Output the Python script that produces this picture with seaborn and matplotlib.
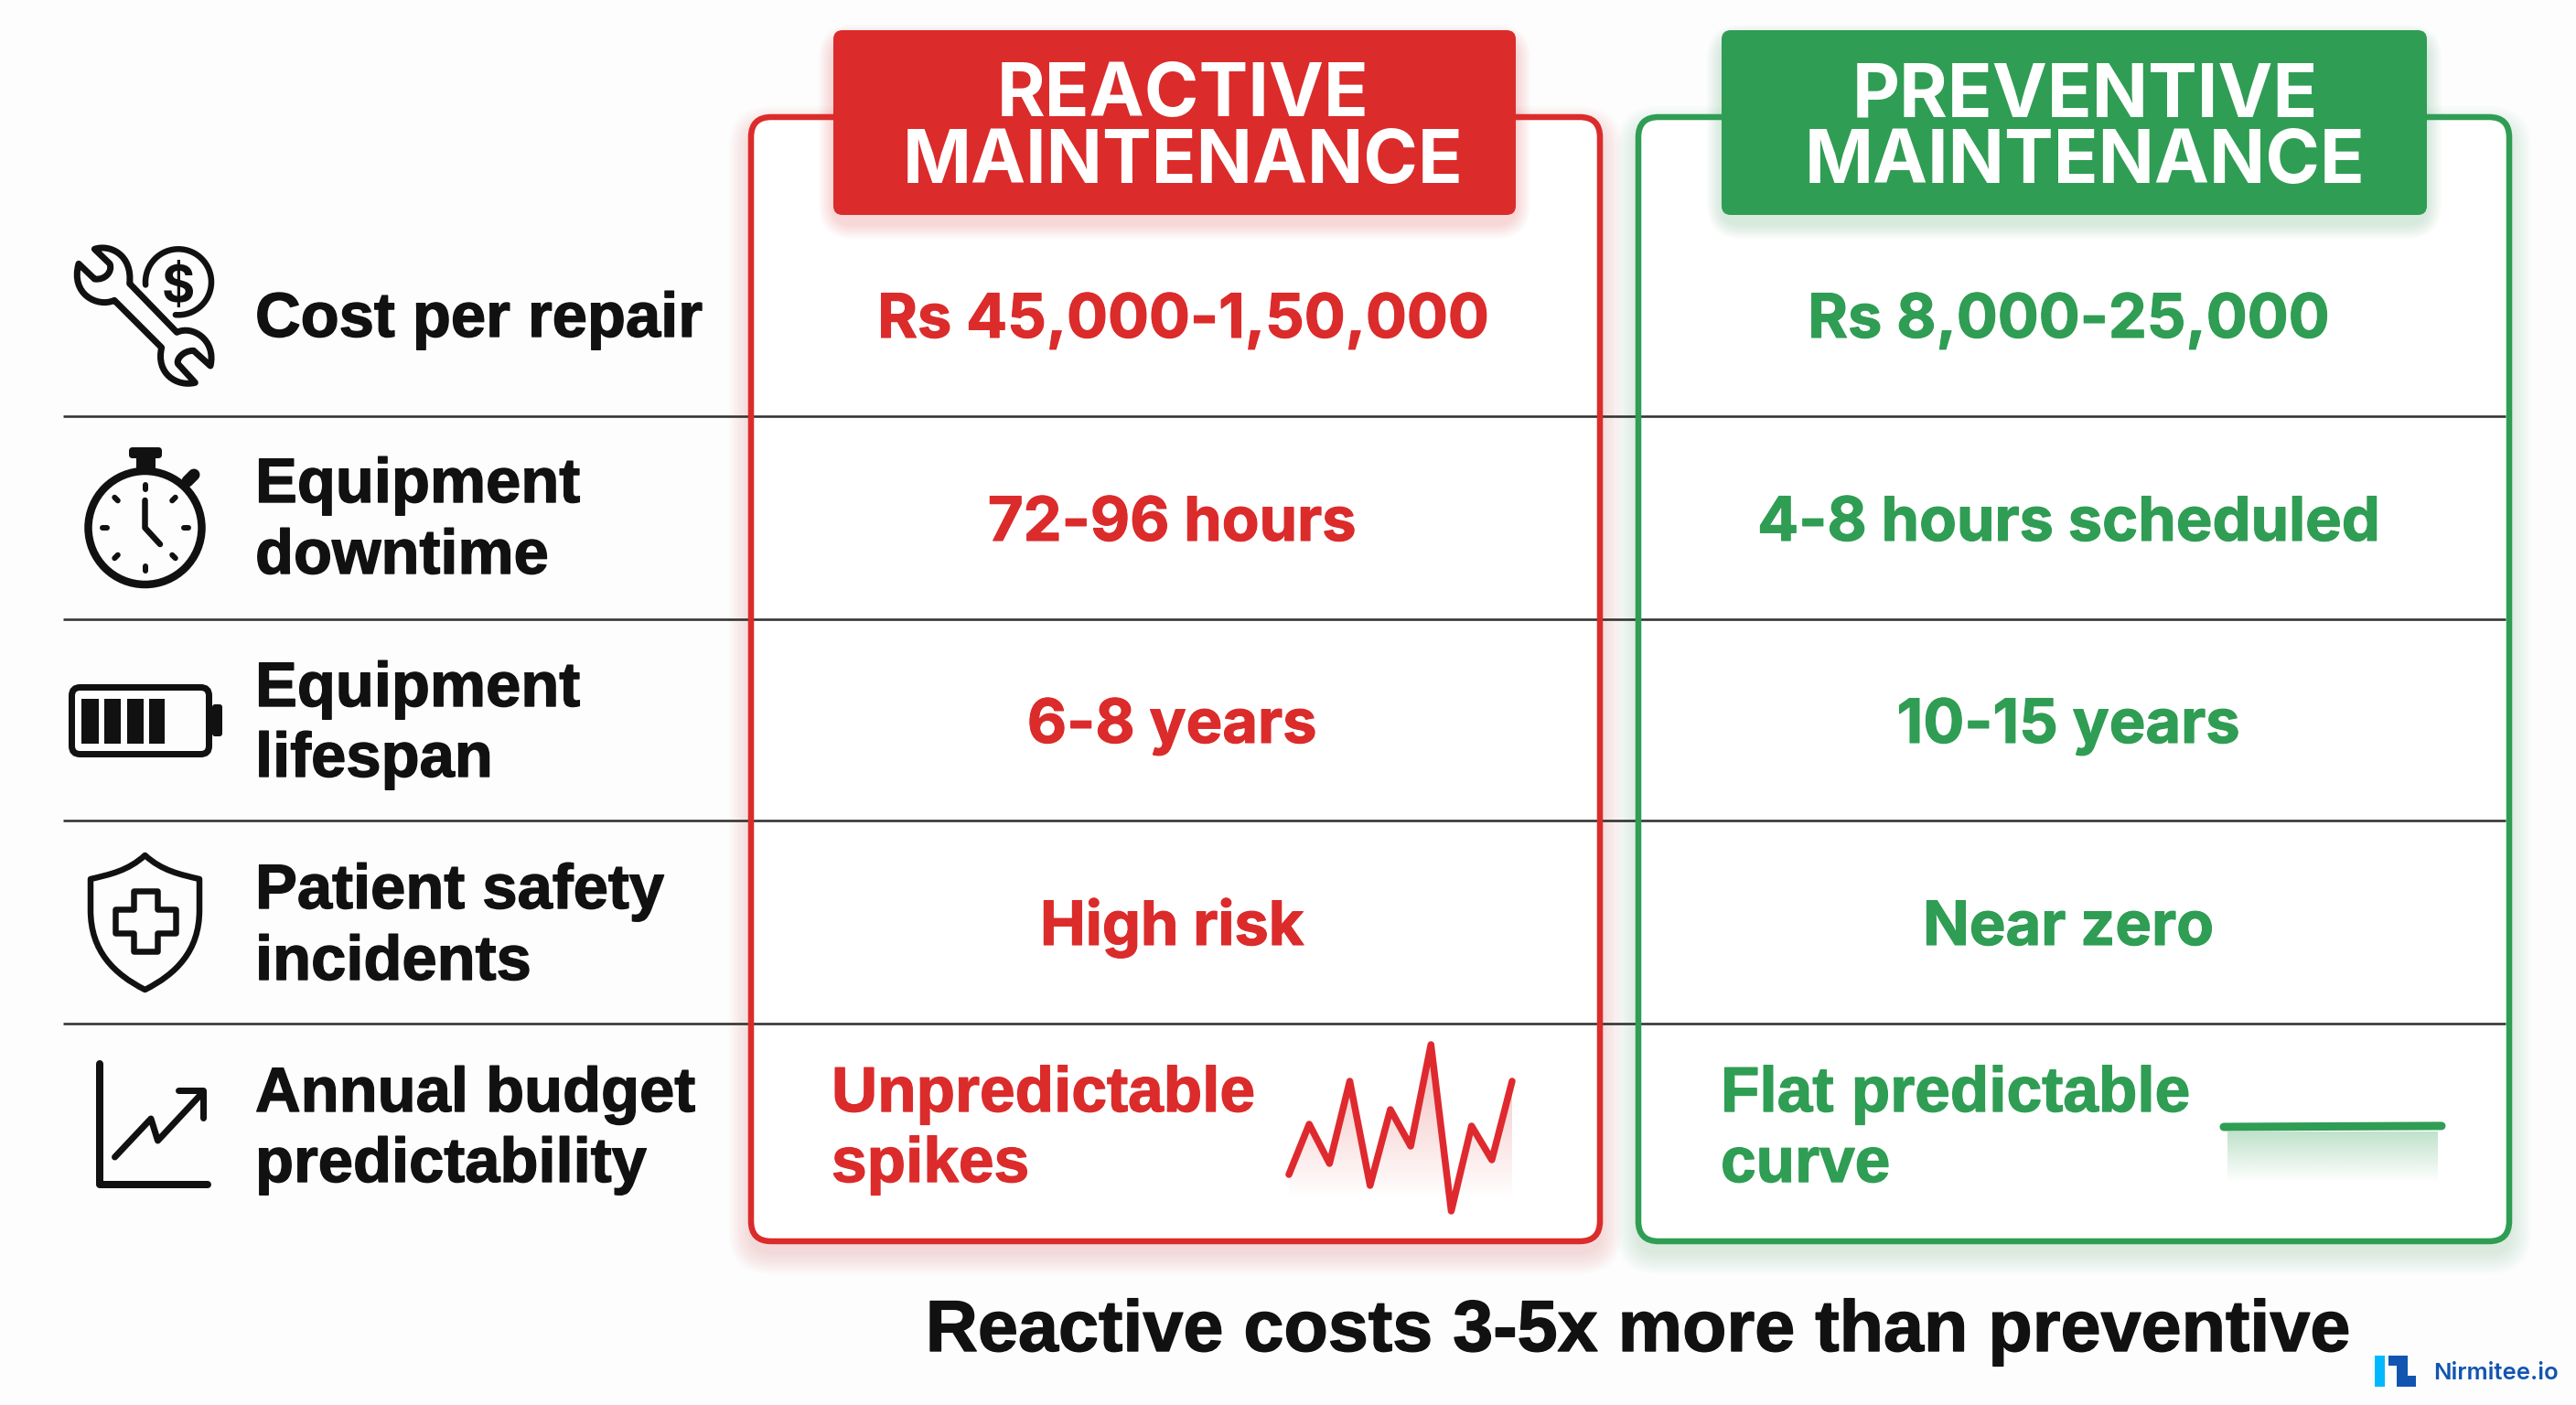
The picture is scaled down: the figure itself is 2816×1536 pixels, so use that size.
"""Reactive vs preventive maintenance comparison table."""

import numpy as np
import matplotlib
matplotlib.use('Agg')
import matplotlib.pyplot as plt
import matplotlib.patheffects as pe
import seaborn as sns
from matplotlib.patches import Circle, FancyBboxPatch, PathPatch, Polygon, Rectangle
from matplotlib.path import Path
from matplotlib.colors import to_rgb

# Table content
metric_labels = ['Cost per repair', 'Equipment\ndowntime', 'Equipment\nlifespan',
                 'Patient safety\nincidents', 'Annual budget\npredictability']
reactive_values = ['Rs 45,000-1,50,000', '72-96 hours', '6-8 years', 'High risk']
preventive_values = ['Rs 8,000-25,000', '4-8 hours scheduled', '10-15 years', 'Near zero']
reactive_budget = ['Unpredictable', 'spikes']
preventive_budget = ['Flat predictable', 'curve']
headers = ['REACTIVE\nMAINTENANCE', 'PREVENTIVE\nMAINTENANCE']
footer = 'Reactive costs 3-5x more than preventive'
brand = 'Nirmitee.io'

# Sparklines (arbitrary budget units)
period = list(range(12))
reactive_spend = [40, 95, 52, 142, 28, 111, 71, 182, 0, 93, 56, 142]
preventive_spend = [92, 92.1, 92.2, 92.3, 92.4, 92.5, 92.6, 92.7, 92.8, 92.9, 93, 93.1]

RED = '#DB2B2B'
GREEN = '#2F9D53'
INK = '#111111'
BG = '#FDFDFD'
BODY_FONT = 'Liberation Sans'
HEAD_FONT = 'Inter'
PX = 0.72  # one pixel in points at dpi 100

sns.set_theme(style='white')
plt.rcParams['font.family'] = [BODY_FONT, 'DejaVu Sans']

fig = plt.figure(figsize=(28.16, 15.36), dpi=100, facecolor=BG)
ax = fig.add_axes([0, 0, 1, 1])
ax.set_xlim(0, 2816)
ax.set_ylim(1536, 0)
ax.axis('off')


def put(text, x, y, size, color=INK, ha='left', weight='bold', family=BODY_FONT, thicken=0, z=10):
    txt = ax.text(x, y, text, fontsize=size, color=color, ha=ha, va='baseline',
                  fontweight=weight, family=family, zorder=z)
    if thicken:
        txt.set_path_effects([pe.withStroke(linewidth=thicken, foreground=color)])


def rounded(x0, y0, x1, y1, radius, **kw):
    patch = FancyBboxPatch((x0, y0), x1 - x0, y1 - y0,
                           boxstyle=f'round,pad=0,rounding_size={radius}', **kw)
    ax.add_patch(patch)
    return patch


def glow(x0, y0, x1, y1, color, steps, spread, drop, alpha, z):
    for i in range(steps, 0, -1):
        grow = spread * i / steps
        rounded(x0 - grow, y0 - grow + drop, x1 + grow, y1 + grow + drop, 22 + grow,
                facecolor=color, edgecolor='none', alpha=alpha, zorder=z)


# Column frames
frames = [(821, 128, 1749, 1357, RED), (1791, 128, 2743, 1357, GREEN)]
for x0, y0, x1, y1, col in frames:
    glow(x0, y0, x1, y1, col, 10, 24, 12, 0.015, 1)
    rounded(x0, y0, x1, y1, 22, facecolor='white', edgecolor='none', zorder=2)
    rounded(x0, y0, x1, y1, 22, facecolor='none', edgecolor=col, linewidth=6.5 * PX, zorder=4)

# Row separators
for y in [455, 677, 897, 1119]:
    ax.plot([69, 2739], [y, y], color='#333333', lw=2.6 * PX, zorder=3, solid_capstyle='butt')

# Header tabs
tabs = [(911, 33, 1657, 235, RED, 1293), (1882, 33, 2653, 235, GREEN, 2279)]
for (x0, y0, x1, y1, col, cx), head in zip(tabs, headers):
    glow(x0, y0, x1, y1, col, 8, 16, 10, 0.025, 5)
    rounded(x0, y0, x1, y1, 10, facecolor=col, edgecolor='none', zorder=6)
    first, second = head.split('\n')
    put(first, cx, 127, 58, 'white', ha='center', family=HEAD_FONT)
    put(second, cx, 200, 58, 'white', ha='center', family=HEAD_FONT)

# Row labels
label_baselines = [(368,), (549, 627), (772, 849), (993, 1071), (1215, 1292)]
for label, ys in zip(metric_labels, label_baselines):
    for part, y in zip(label.split('\n'), ys):
        put(part, 279, y, 49.5, thicken=1.0)

# Value cells
value_baselines = [369, 591, 812, 1033]
for val, y in zip(reactive_values, value_baselines):
    put(val, 1281 if y != 369 else 1293, y, 48, RED, ha='center', family=HEAD_FONT, thicken=0.8)
for val, y in zip(preventive_values, value_baselines):
    put(val, 2261, y, 48, GREEN, ha='center', family=HEAD_FONT, thicken=0.8)
for part, y in zip(reactive_budget, (1215, 1292)):
    put(part, 909, y, 50, RED, thicken=1.0)
for part, y in zip(preventive_budget, (1215, 1292)):
    put(part, 1881, y, 50, GREEN, thicken=1.0)

put(footer, 1791, 1477, 57, INK, ha='center', thicken=1.0)


def spark_axes(x0, x1):
    # y range shared by both sparklines, same pixel rect height
    sub = fig.add_axes([x0 / 2816, 1 - 1324 / 1536, (x1 - x0) / 2816, 182 / 1536])
    sub.patch.set_alpha(0)
    sub.axis('off')
    return sub


def fade(sub, color, extent, top_alpha):
    rgb = to_rgb(color)
    grad = np.zeros((64, 2, 4))
    grad[..., :3] = rgb
    grad[..., 3] = np.linspace(top_alpha, 0, 64)[:, None]
    return sub.imshow(grad, extent=extent, origin='upper', aspect='auto', interpolation='bilinear')


# Reactive sparkline
ax_r = spark_axes(1409, 1653)
img = fade(ax_r, RED, (0, 11, 11, 182), 0.32)
verts = list(zip(period, reactive_spend)) + [(11, 0), (0, 0)]
img.set_clip_path(Polygon(verts, closed=True, transform=ax_r.transData))
sns.lineplot(x=period, y=reactive_spend, ax=ax_r, color='#DE2A2E', linewidth=7.5 * PX, errorbar=None)
ax_r.lines[0].set_solid_joinstyle('round')
ax_r.lines[0].set_clip_on(False)
ax_r.set_xlim(0, 11)
ax_r.set_ylim(0, 182)
ax_r.axis('off')

# Preventive sparkline
ax_p = spark_axes(2431, 2669)
fade(ax_p, GREEN, (0.2, 10.8, 31, 87), 0.3)
sns.lineplot(x=period, y=preventive_spend, ax=ax_p, color=GREEN, linewidth=9 * PX, errorbar=None)
ax_p.lines[0].set_solid_capstyle('round')
ax_p.lines[0].set_clip_on(False)
ax_p.set_xlim(0, 11)
ax_p.set_ylim(0, 182)
ax_p.axis('off')


# Icons, all in figure pixels
def stroke(points, width, color=INK, z=10):
    xs, ys = zip(*points)
    ax.plot(xs, ys, color=color, lw=width * PX, solid_capstyle='round',
            solid_joinstyle='round', zorder=z)


def draw_wrench():
    M, L, C, Z = Path.MOVETO, Path.LINETO, Path.CURVE4, Path.CLOSEPOLY
    pts = [(100, 52), (150, 35), (225, 70), (215, 165), (370, 325),
           (420, 300), (500, 350), (480, 435), (425, 385),
           (385, 385), (365, 420), (375, 430), (430, 490),
           (370, 505), (300, 460), (320, 375), (165, 220),
           (110, 245), (20, 200), (48, 100), (100, 150),
           (135, 155), (160, 125), (150, 100), (100, 52), (100, 52)]
    codes = [M, C, C, C, L, C, C, C, L, C, C, C, L, C, C, C, L, C, C, C, L, C, C, C, L, Z]
    xy = np.array(pts, dtype=float) / 3 + [70, 255]
    ax.add_patch(PathPatch(Path(xy, codes), facecolor='none', edgecolor=INK,
                           lw=7 * PX, joinstyle='round', zorder=10))
    theta = np.radians(np.linspace(175, 455, 80))
    stroke(list(zip(195 + 36 * np.cos(theta), 308.3 + 36 * np.sin(theta))), 6.5)
    ax.text(195, 310, '$', fontsize=40, fontweight='bold', color=INK, ha='center',
            va='center_baseline', zorder=10, family=HEAD_FONT)


def draw_stopwatch():
    cx, cy = 158.5, 577
    ax.add_patch(Circle((cx, cy), 62, facecolor='none', edgecolor=INK, lw=8.5 * PX, zorder=10))
    ax.add_patch(Rectangle((149, 500), 21, 16, facecolor=INK, edgecolor='none', zorder=10))
    rounded(141, 489, 177, 501, 4, facecolor=INK, edgecolor='none', zorder=10)
    stroke([(205, 526), (212, 519)], 13)
    for a in np.radians(np.arange(0, 360, 45)):
        stroke([(cx + 42 * np.cos(a), cy + 42 * np.sin(a)), (cx + 47 * np.cos(a), cy + 47 * np.sin(a))], 6)
    stroke([(158.5, 547), (158.5, 577), (175, 595)], 6.5)


def draw_battery():
    rounded(78.5, 751.5, 228.5, 824.5, 9, facecolor='none', edgecolor=INK, lw=7 * PX, zorder=10)
    rounded(232, 770, 243, 805, 3, facecolor=INK, edgecolor='none', zorder=10)
    for x0, x1 in [(89, 108), (113.5, 132), (138.5, 157), (163, 180)]:
        ax.add_patch(Rectangle((x0, 764), x1 - x0, 49, facecolor=INK, edgecolor='none', zorder=10))


def draw_shield():
    M, L, C, Z = Path.MOVETO, Path.LINETO, Path.CURVE4, Path.CLOSEPOLY
    pts = [(158.5, 935), (140, 952), (120, 956), (99, 961), (99, 995), (99, 1040), (125, 1065),
           (158.5, 1082), (192, 1065), (218, 1040), (218, 995), (218, 961), (197, 956), (177, 952),
           (158.5, 935), (158.5, 935)]
    codes = [M, C, C, C, L, C, C, C, C, C, C, L, C, C, C, Z]
    ax.add_patch(PathPatch(Path(pts, codes), facecolor='none', edgecolor=INK,
                           lw=6.5 * PX, joinstyle='round', zorder=10))
    cx, cy, a, b = 158.5, 1007, 33, 13
    cross = [(cx - b, cy - a), (cx + b, cy - a), (cx + b, cy - b), (cx + a, cy - b), (cx + a, cy + b),
             (cx + b, cy + b), (cx + b, cy + a), (cx - b, cy + a), (cx - b, cy + b), (cx - a, cy + b),
             (cx - a, cy - b), (cx - b, cy - b)]
    ax.add_patch(Polygon(cross, closed=True, facecolor='none', edgecolor=INK,
                         lw=6.5 * PX, joinstyle='round', zorder=10))


def draw_trend():
    stroke([(109, 1163), (109, 1295), (227, 1295)], 8)
    stroke([(125.5, 1265), (165, 1223), (172.5, 1247), (221, 1195)], 7)
    stroke([(195, 1192), (222, 1192), (222, 1222)], 7)


draw_wrench()
draw_stopwatch()
draw_battery()
draw_shield()
draw_trend()

# Brand mark
ax.add_patch(Rectangle((2596, 1482), 11.3, 34, facecolor='#00B8FF', edgecolor='none', zorder=10))
ax.add_patch(Polygon([(2610.7, 1482), (2631.7, 1482), (2631.7, 1504.3), (2641, 1504.3), (2641, 1516),
                      (2620, 1516), (2620, 1492.7), (2610.7, 1492.7)],
                     closed=True, facecolor='#1255B0', edgecolor='none', zorder=10))
put(brand, 2660, 1508, 18.5, '#1255B0', weight='semibold', family=HEAD_FONT)

fig.savefig('out.png', dpi=100, facecolor=BG)
